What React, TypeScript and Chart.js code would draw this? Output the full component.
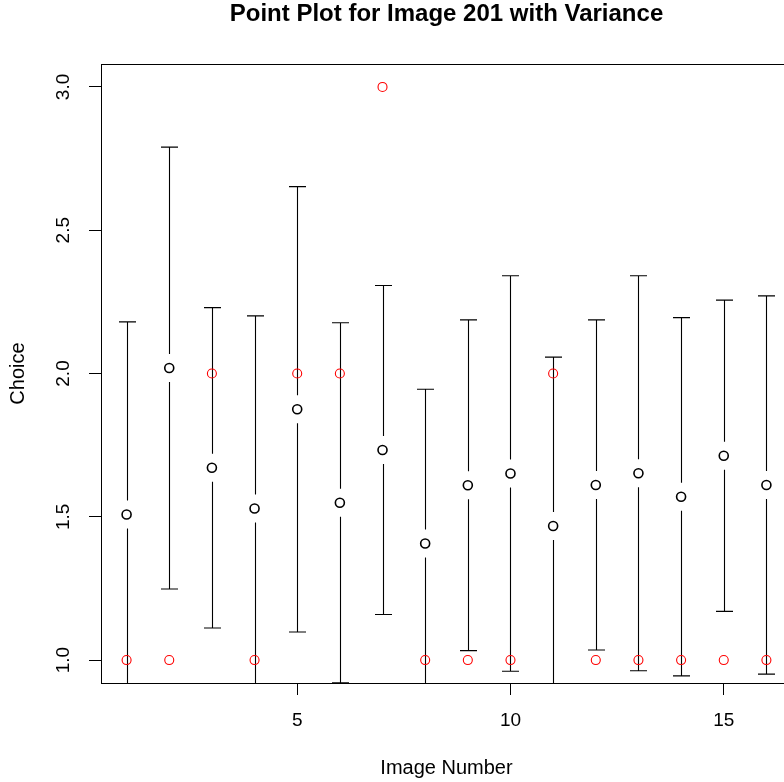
import React, { useEffect, useRef } from "react";
import { Chart, registerables } from "chart.js";

Chart.register(...registerables);

const imageNumbers = [1, 2, 3, 4, 5, 6, 7, 8, 9, 10, 11, 12, 13, 14, 15, 16];
const meanChoice = [1.508, 2.019, 1.671, 1.529, 1.875, 1.549, 1.733, 1.407, 1.61, 1.651, 1.468, 1.611, 1.652, 1.57, 1.713, 1.611];
const sdChoice = [0.672, 0.771, 0.559, 0.672, 0.777, 0.628, 0.574, 0.538, 0.577, 0.69, 0.589, 0.576, 0.689, 0.625, 0.543, 0.66];
const actualChoice = [1, 1, 2, 1, 2, 2, 3, 1, 1, 1, 2, 1, 1, 1, 1, 1];
const xTicks = [5, 10, 15];
const yTicks = [1.0, 1.5, 2.0, 2.5, 3.0];

const titleText = "Point Plot for Image 201 with Variance";
const xTitle = "Image Number";
const yTitle = "Choice";
const FONT = "'Liberation Sans', Arial, Helvetica, sans-serif";

const W = 800;
const H = 782;

const errorBarPlugin = {
  id: "errorBars",
  beforeDatasetsDraw(chart: any) {
    const { ctx, chartArea, scales } = chart;
    const xs = scales.x;
    const ys = scales.y;
    const gap = 14;
    const cap = 8.5;
    ctx.save();
    ctx.beginPath();
    ctx.rect(chartArea.left, chartArea.top, chartArea.right - chartArea.left, chartArea.bottom - chartArea.top);
    ctx.clip();
    ctx.strokeStyle = "#000";
    ctx.lineWidth = 1.1;
    for (let i = 0; i < imageNumbers.length; i++) {
      const x = Math.round(xs.getPixelForValue(imageNumbers[i])) + 0.5;
      const ym = ys.getPixelForValue(meanChoice[i]);
      const yu = ys.getPixelForValue(meanChoice[i] + sdChoice[i]);
      const yl = ys.getPixelForValue(meanChoice[i] - sdChoice[i]);
      ctx.beginPath();
      ctx.moveTo(x, ym - gap);
      ctx.lineTo(x, yu);
      ctx.moveTo(x - cap, yu);
      ctx.lineTo(x + cap, yu);
      ctx.moveTo(x, ym + gap);
      ctx.lineTo(x, yl);
      ctx.moveTo(x - cap, yl);
      ctx.lineTo(x + cap, yl);
      ctx.stroke();
    }
    ctx.restore();
  },
};

const textPlugin = {
  id: "rText",
  afterDraw(chart: any) {
    const { ctx, chartArea, scales } = chart;
    const ys = scales.y;
    const cx = (chartArea.left + chartArea.right) / 2;
    const cy = (chartArea.top + chartArea.bottom) / 2;
    ctx.save();
    // box
    ctx.strokeStyle = "#000";
    ctx.lineWidth = 1;
    ctx.strokeRect(chartArea.left + 0.5, chartArea.top + 0.5, chartArea.right - chartArea.left, chartArea.bottom - chartArea.top);
    ctx.fillStyle = "#000";
    // title
    ctx.font = `bold 24px ${FONT}`;
    ctx.textAlign = "center";
    ctx.textBaseline = "alphabetic";
    ctx.fillText(titleText, cx, 21);
    // x title
    ctx.font = `20px ${FONT}`;
    ctx.fillText(xTitle, cx, 774);
    // y title
    ctx.save();
    ctx.translate(24, cy);
    ctx.rotate(-Math.PI / 2);
    ctx.fillText(yTitle, 0, 0);
    ctx.restore();
    // y tick labels
    ctx.font = `19px ${FONT}`;
    for (const v of yTicks) {
      const y = ys.getPixelForValue(v);
      ctx.save();
      ctx.translate(69, y);
      ctx.rotate(-Math.PI / 2);
      ctx.fillText(v.toFixed(1), 0, 0);
      ctx.restore();
    }
    ctx.restore();
  },
};

export default function App() {
  const ref = useRef<HTMLCanvasElement | null>(null);
  useEffect(() => {
    if (!ref.current) return;
    const chart = new Chart(ref.current, {
      type: "scatter",
      data: {
        datasets: [
          {
            label: "Mean choice",
            data: imageNumbers.map((x, i) => ({ x, y: meanChoice[i] })),
            pointStyle: "circle",
            pointRadius: 4.5,
            pointBorderWidth: 1.6,
            borderColor: "#000",
            backgroundColor: "rgba(0,0,0,0)",
            pointHoverRadius: 4.5,
          },
          {
            label: "Actual choice",
            data: imageNumbers.map((x, i) => ({ x, y: actualChoice[i] })),
            pointStyle: "circle",
            pointRadius: 4.5,
            pointBorderWidth: 1.1,
            borderColor: "#ff0000",
            backgroundColor: "rgba(0,0,0,0)",
            pointHoverRadius: 4.5,
          },
        ],
      },
      options: {
        animation: false,
        responsive: false,
        maintainAspectRatio: false,
        devicePixelRatio: 1,
        layout: { padding: { left: 0, top: 64, right: 8, bottom: 0 } },
        plugins: {
          legend: { display: false },
          tooltip: { enabled: false },
          title: { display: false },
        },
        scales: {
          x: {
            type: "linear",
            min: 0.4,
            max: 16.6,
            afterBuildTicks: (s: any) => {
              s.ticks = xTicks.map((v) => ({ value: v }));
            },
            afterFit: (s: any) => {
              s.height = H - 683;
            },
            grid: { drawOnChartArea: false, drawTicks: true, tickLength: 12, color: "#000", lineWidth: 1 },
            border: { display: true, color: "#000", width: 1 },
            ticks: {
              color: "#000",
              font: { family: FONT, size: 19 },
              padding: 14,
              maxRotation: 0,
              minRotation: 0,
              callback: (v: any) => String(v),
            },
          },
          y: {
            type: "linear",
            min: 0.92,
            max: 3.08,
            afterBuildTicks: (s: any) => {
              s.ticks = yTicks.map((v) => ({ value: v }));
            },
            afterFit: (s: any) => {
              s.width = 101;
            },
            grid: { drawOnChartArea: false, drawTicks: true, tickLength: 12, color: "#000", lineWidth: 1 },
            border: { display: true, color: "#000", width: 1 },
            ticks: { display: false },
          },
        },
      },
      plugins: [errorBarPlugin, textPlugin],
    });
    return () => chart.destroy();
  }, []);
  return (
    <div style={{ position: "fixed", left: 0, top: 0, width: 784, height: 782, overflow: "hidden", background: "#fff" }}>
      <canvas ref={ref} width={W} height={H} style={{ display: "block", width: W, height: H }} />
    </div>
  );
}
